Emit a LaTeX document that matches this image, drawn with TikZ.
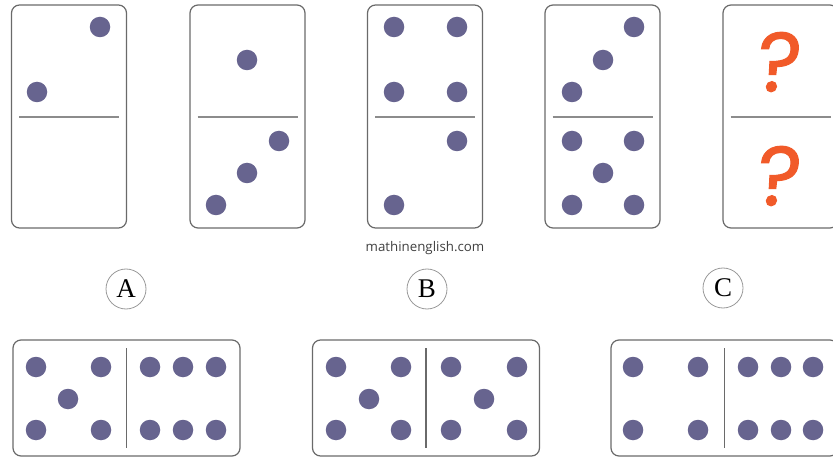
\documentclass[tikz,border=0pt]{standalone}
\usepackage{fontspec}
\setmainfont{Liberation Serif}
\newfontfamily\webfont{Open Sans}
\newfontfamily\qfont[FakeBold=1.2,FakeSlant=0.08]{Poppins}
\definecolor{pip}{HTML}{67648F}
\definecolor{edge}{HTML}{6A6A6A}
\definecolor{divgray}{HTML}{8C8C8C}
\definecolor{qorange}{HTML}{F15A29}
\tikzset{
  tile/.style={draw=edge, line width=1.2pt, rounded corners=8pt, fill=white, inner sep=0pt},
  vtile/.style={tile, minimum width=115pt, minimum height=223pt},
  htile/.style={tile, minimum width=227pt, minimum height=116pt},
  pipdot/.style={circle, fill=pip, minimum size=20.5pt, inner sep=0pt},
  hdiv/.style={draw=divgray, line width=2pt},
  vdiv/.style={draw=edge, line width=1.2pt},
  lbl/.style={circle, draw=black!40, line width=0.8pt, minimum size=40pt, inner sep=0pt, font=\fontsize{27}{27}\selectfont},
  qmark/.style={text=qorange, font=\qfont\fontsize{84}{84}\selectfont, inner sep=0pt}
}
\begin{document}
\begin{tikzpicture}[x=1pt,y=-1pt]
\useasboundingbox (0,0) rectangle (833,457);
\begin{scope}
\clip (0,0) rectangle (833,457);
% top dominoes
\foreach \n/\cx in {1/69,2/247.5,3/425,4/602.5,5/780.5}{
  \node[vtile] (t\n) at (\cx,116.5) {};
  \coordinate (t\n l) at (\cx-50,117);
  \coordinate (t\n r) at (\cx+50,117);
  \draw[hdiv] (t\n l) -- (t\n r);
}
% domino 1
\node[pipdot] (p11) at (100,27) {};
\node[pipdot] (p12) at (37,92) {};
% domino 2
\node[pipdot] (p21) at (247,60) {};
\node[pipdot] (p22) at (279,141) {};
\node[pipdot] (p23) at (247,173) {};
\node[pipdot] (p24) at (216,205) {};
% domino 3
\node[pipdot] (p31) at (394,27) {};
\node[pipdot] (p32) at (457,27) {};
\node[pipdot] (p33) at (394,92) {};
\node[pipdot] (p34) at (457,92) {};
\node[pipdot] (p35) at (457,141) {};
\node[pipdot] (p36) at (394,205) {};
% domino 4
\node[pipdot] (p41) at (634,27) {};
\node[pipdot] (p42) at (603,60) {};
\node[pipdot] (p43) at (572,92) {};
\node[pipdot] (p44) at (572,141) {};
\node[pipdot] (p45) at (634,141) {};
\node[pipdot] (p46) at (603,173) {};
\node[pipdot] (p47) at (572,205) {};
\node[pipdot] (p48) at (634,205) {};
% domino 5
\node[qmark] (q1) at (777,62) {?};
\node[qmark] (q2) at (777,176) {?};
% watermark
\node[font=\webfont\fontsize{13.3}{13.3}\selectfont, text=black!75] (web) at (425,248) {mathinenglish.com};
% labels
\node[lbl] (la) at (126,289) {A};
\node[lbl] (lb) at (427,289) {B};
\node[lbl] (lc) at (723,288) {C};
% bottom dominoes
\foreach \n/\cx in {A/126.5,B/426,C/724.5}{
  \node[htile] (b\n) at (\cx,398) {};
  \coordinate (b\n t) at (\cx,348);
  \coordinate (b\n b) at (\cx,448);
  \draw[vdiv] (b\n t) -- (b\n b);
}
% A: 5 | 6
\foreach \i/\x/\y in {1/36/367,2/101/367,3/68/399,4/36/430,5/101/430,
  6/150/367,7/183/367,8/216/367,9/150/430,10/183/430,11/216/430}{
  \node[pipdot] (a\i) at (\x,\y) {};
}
% B: 5 | 5
\foreach \i/\x/\y in {1/336/367,2/401/367,3/369/399,4/336/430,5/401/430,
  6/451/367,7/517/367,8/484/399,9/451/430,10/517/430}{
  \node[pipdot] (b\i) at (\x,\y) {};
}
% C: 4 | 6
\foreach \i/\x/\y in {1/633/367,2/698/367,3/633/430,4/698/430,
  5/748/367,6/781/367,7/813/367,8/748/430,9/781/430,10/813/430}{
  \node[pipdot] (c\i) at (\x,\y) {};
}
\end{scope}
\end{tikzpicture}
\end{document}
